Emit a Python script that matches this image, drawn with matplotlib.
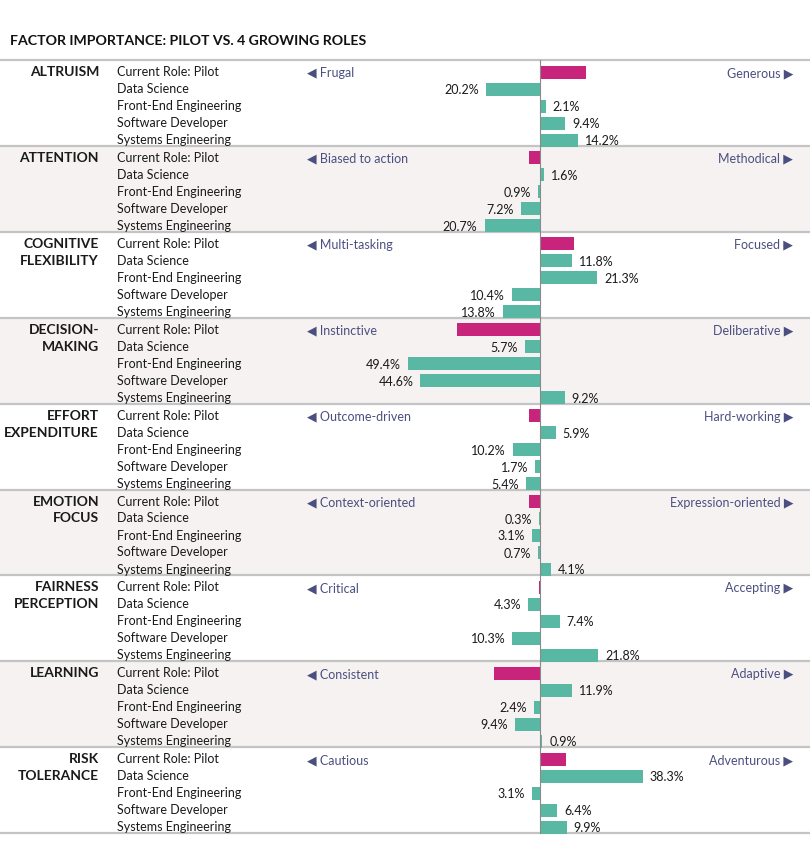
import matplotlib
matplotlib.use("Agg")
import matplotlib.pyplot as plt
from matplotlib.patches import Rectangle

plt.rcParams['font.family'] = ['Lato', 'DejaVu Sans']

title = "FACTOR IMPORTANCE: PILOT VS. 4 GROWING ROLES"
factors = ["ALTRUISM", "ATTENTION", "COGNITIVE\nFLEXIBILITY", "DECISION-\nMAKING",
           "EFFORT\nEXPENDITURE", "EMOTION\nFOCUS", "FAIRNESS\nPERCEPTION",
           "LEARNING", "RISK\nTOLERANCE"]
roles = ["Current Role: Pilot", "Data Science", "Front-End Engineering",
         "Software Developer", "Systems Engineering"]
left_anchor = ["Frugal", "Biased to action", "Multi-tasking", "Instinctive",
               "Outcome-driven", "Context-oriented", "Critical", "Consistent", "Cautious"]
right_anchor = ["Generous", "Methodical", "Focused", "Deliberative", "Hard-working",
                "Expression-oriented", "Accepting", "Adaptive", "Adventurous"]
# Pilot values (unlabelled)
pilot = [17.0, -4.0, 12.7, -31.0, -4.2, -4.2, -0.5, -17.0, 9.6]
data_science = [-20.2, 1.6, 11.8, -5.7, 5.9, -0.3, -4.3, 11.9, 38.3]
front_end = [2.1, -0.9, 21.3, -49.4, -10.2, -3.1, 7.4, -2.4, -3.1]
software_dev = [9.4, -7.2, -10.4, -44.6, -1.7, -0.7, -10.3, -9.4, 6.4]
systems_eng = [14.2, -20.7, -13.8, 9.2, -5.4, 4.1, 21.8, 0.9, 9.9]

TEAL = "#58b8a3"
PINK = "#c9247c"
ANCHOR = "#4b4f80"
BAND = "#f5f2f1"
SEP = "#c4c4c4"

W, H = 810, 850
fig = plt.figure(figsize=(W / 100, H / 100), dpi=100)
ax = fig.add_axes([0, 0, 1, 1])
PXPP = 2.68  # pixels per percent
CX = 540
ax.set_xlim(-CX / PXPP, (W - CX) / PXPP)
ax.set_ylim(H, 0)
ax.axis("off")


def px(x):
    return (x - CX) / PXPP


top = 60.0
gh = 85.9
row = 17.0
pad = 12.0
bar_h = 13.0

fig.text(10 / W, 1 - 41 / H, title, fontsize=10.2, fontweight="bold", color="#111111",
         va="center", ha="left")

for g, fac in enumerate(factors):
    gt = top + g * gh
    if g % 2 == 1:
        ax.add_patch(Rectangle((px(0), gt), px(W) - px(0), gh, facecolor=BAND,
                               edgecolor="none", zorder=0))
    ax.plot([px(0), px(W)], [gt, gt], color=SEP, lw=1.6, zorder=1, solid_capstyle="butt")
    vals = [pilot[g], data_science[g], front_end[g], software_dev[g], systems_eng[g]]
    for i, (r, v) in enumerate(zip(roles, vals)):
        yc = gt + pad + i * row
        ax.text(px(117), yc, r, fontsize=9, ha="left", va="center", color="#1a1a1a")
        col = PINK if i == 0 else TEAL
        ax.barh(yc, v, height=bar_h, color=col, zorder=3)
        if i > 0:
            if v >= 0:
                ax.text(v + 7 / PXPP, yc + 1, f"{abs(v):.1f}%", fontsize=9, ha="left",
                        va="center", color="#1a1a1a")
            else:
                ax.text(v - 7 / PXPP, yc + 1, f"{abs(v):.1f}%", fontsize=9, ha="right",
                        va="center", color="#1a1a1a")
    lines = fac.split("\n")
    for j, ln in enumerate(lines):
        ax.text(px(99), gt + pad + j * row, ln, fontsize=10, fontweight="bold",
                ha="right", va="center", color="#1a1a1a")
    ax.text(px(307), gt + pad + 1, "\u25C0 " + left_anchor[g], fontsize=9, ha="left",
            va="center", color=ANCHOR)
    ax.text(px(793), gt + pad + 1, right_anchor[g] + " \u25B6", fontsize=9, ha="right",
            va="center", color=ANCHOR)

bottom = top + len(factors) * gh
ax.plot([px(0), px(W)], [bottom, bottom], color=SEP, lw=1.6, zorder=1)
ax.plot([0, 0], [top, bottom], color="#8a8a8a", lw=0.8, zorder=4)

fig.savefig("out.png", dpi=100)
